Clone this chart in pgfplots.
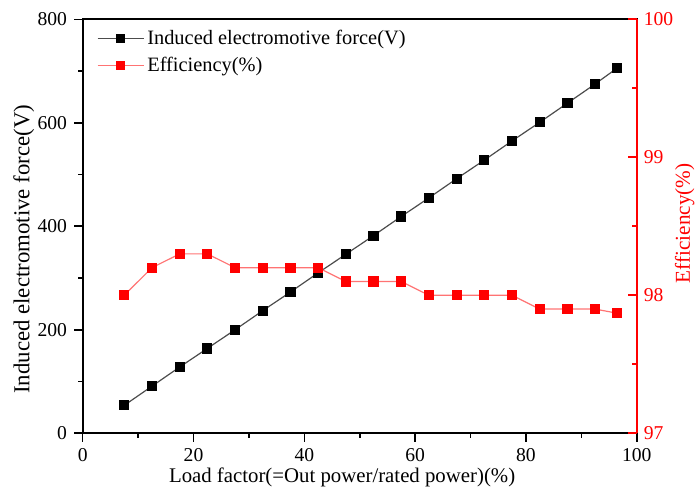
\documentclass[border=0pt]{standalone}
\usepackage{fontspec}
\setmainfont{Liberation Serif}
\usepackage{pgfplots}
\pgfplotsset{compat=1.18}
\begin{document}
\begin{tikzpicture}
\pgfplotsset{
  every axis/.append style={
    scale only axis, width=277pt, height=207pt,
    xmin=0, xmax=100,
    /pgf/number format/assume math mode=true,
    xticklabel={\textrm{\pgfmathprintnumber[assume math mode=true]{\tick}}},
    yticklabel={\textrm{\pgfmathprintnumber[assume math mode=true]{\tick}}},
    tick label style={font=\rmfamily\fontsize{9.8}{12}\selectfont},
    major tick length=4.3pt, minor tick length=2.2pt,
  }
}
\begin{axis}[
  name=ax1,
  ymin=0, ymax=800,
  ytick={0,200,...,800}, xtick={0,20,...,100},
  minor x tick num=1, minor y tick num=1,
  xtick pos=bottom, ytick pos=left, tick align=outside,
  axis line style={line width=1pt},
  every tick/.style={black, line width=0.8pt},
  xlabel={Load factor(=Out power/rated power)(\%)},
  ylabel={Induced electromotive force(V)},
  xlabel style={font=\fontsize{10.4}{12}\selectfont, at={(rel axis cs:0.5,0)}, anchor=center, yshift=-22pt, xshift=-8.8pt},
  ylabel style={font=\fontsize{11.4}{13}\selectfont, at={(rel axis cs:0,0.5)}, anchor=center, yshift=29.5pt, xshift=-11.5pt},
  legend style={draw=none, fill=none, at={(rel axis cs:0,1)}, anchor=north west,
    xshift=4pt, yshift=-1pt, font=\fontsize{10.2}{12}\selectfont,
    row sep=1pt, nodes={inner xsep=1.5pt}},
  legend cell align=left,
  legend image code/.code={\draw[#1,mark=none] (0pt,0pt) -- (23pt,0pt);
     \draw[#1,mark repeat=2,mark phase=2,mark size=1.9pt,draw=none] plot coordinates {(0pt,0pt)(11.5pt,0pt)(23pt,0pt)};},
]
\addplot[color=black!70, line width=0.6pt, mark=square*, mark size=2.25pt,
  mark options={fill=black, draw=black, solid}] coordinates {
(7.5,54) (12.5,91) (17.5,128) (22.5,164) (27.5,200) (32.5,237) (37.5,273)
(42.5,310) (47.5,346) (52.5,382) (57.5,419) (62.5,455) (67.5,492) (72.5,528)
(77.5,565) (82.5,601) (87.5,638) (92.5,675) (96.5,706)
};
\addlegendentry{Induced electromotive force(V)}
\addlegendimage{color=red!55, line width=0.6pt, mark=square*, mark options={fill=red, draw=red, solid}}
\addlegendentry{Efficiency(\%)}
\end{axis}
\begin{axis}[
  ymin=97, ymax=100, ytick={97,98,99,100}, minor y tick num=1,
  axis x line=none, axis y line*=right,
  tick align=inside,
  y axis line style={red, line width=1pt, -},
  every tick/.style={red, line width=0.8pt},
  yticklabel style={red},
  ylabel={Efficiency(\%)},
  ylabel style={red, font=\fontsize{10.6}{12}\selectfont, at={(rel axis cs:1,0.5)}, anchor=center, yshift=-24pt, xshift=1.5pt},
]
\addplot[color=red!55, line width=0.6pt, mark=square*, mark size=2.25pt,
  mark options={fill=red, draw=red, solid}] coordinates {
(7.5,98.0) (12.5,98.2) (17.5,98.3) (22.5,98.3) (27.5,98.2) (32.5,98.2) (37.5,98.2)
(42.5,98.2) (47.5,98.1) (52.5,98.1) (57.5,98.1) (62.5,98.0) (67.5,98.0) (72.5,98.0)
(77.5,98.0) (82.5,97.9) (87.5,97.9) (92.5,97.9) (96.5,97.87)
};
\end{axis}
\pgfresetboundingbox
\path ([shift={(-41.35pt,-28.85pt)}]ax1.south west) rectangle ([shift={(29.15pt,9.65pt)}]ax1.north east);
\end{tikzpicture}
\end{document}
